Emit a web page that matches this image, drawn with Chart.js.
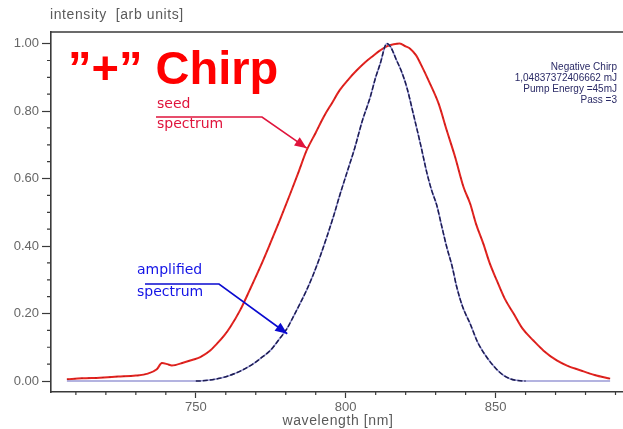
<!DOCTYPE html>
<html>
<head>
<meta charset="utf-8">
<script src="https://cdn.jsdelivr.net/npm/chart.js@4"></script>
<style>
  html, body { margin: 0; padding: 0; background: #fff; }
  #wrap { width: 623px; height: 429px; }
</style>
</head>
<body>
<div id="wrap"><canvas id="chirpChart" width="623" height="429"></canvas></div>
<script>
// Seed spectrum
const seedNm = [707, 712, 718, 724, 730, 734, 737, 738.7, 740.5, 742, 746, 749, 751.5, 754.5, 757, 759.5, 761.5, 764.8, 768, 771.5, 774.8, 778, 781.5, 784.3, 787, 790, 792.6, 795.5, 798, 801, 803.7, 806.5, 809.3, 811.5, 813.7, 816, 818, 820, 821.5, 823.5, 825, 828.2, 831, 833.7, 836.5, 839.3, 841.5, 843.5, 845.9, 848, 850.4, 853, 856, 859, 862.6, 866, 870.4, 874, 878.2, 883, 888.2];
const seedVal = [0.005, 0.008, 0.010, 0.013, 0.016, 0.022, 0.035, 0.053, 0.050, 0.046, 0.055, 0.063, 0.071, 0.088, 0.110, 0.135, 0.160, 0.210, 0.270, 0.338, 0.407, 0.476, 0.555, 0.620, 0.684, 0.736, 0.782, 0.825, 0.862, 0.895, 0.921, 0.945, 0.965, 0.980, 0.992, 0.998, 1.000, 0.992, 0.985, 0.965, 0.940, 0.880, 0.822, 0.743, 0.664, 0.575, 0.526, 0.465, 0.407, 0.350, 0.298, 0.245, 0.200, 0.155, 0.120, 0.090, 0.061, 0.045, 0.032, 0.018, 0.007];

// Amplified spectrum
const ampNm = [707, 720, 735, 750, 754, 758, 761.5, 765, 769, 772, 774.8, 777.5, 780.4, 782.5, 784.8, 787, 789.3, 791.5, 793.7, 796, 798, 800.5, 803, 805.5, 808.2, 810, 811.5, 813.7, 815, 817, 818.5, 820.4, 822.6, 825, 827, 828.5, 830.4, 832, 833.7, 835.5, 837, 839, 841.5, 844, 847, 850, 852.6, 855, 857, 860, 870, 880, 888.2];
const ampVal = [0, 0, 0, 0, 0.002, 0.008, 0.017, 0.030, 0.050, 0.070, 0.090, 0.120, 0.155, 0.190, 0.230, 0.270, 0.318, 0.370, 0.427, 0.490, 0.550, 0.620, 0.690, 0.770, 0.842, 0.900, 0.940, 1.000, 0.990, 0.950, 0.920, 0.870, 0.790, 0.700, 0.620, 0.570, 0.520, 0.460, 0.397, 0.340, 0.280, 0.220, 0.170, 0.115, 0.071, 0.038, 0.017, 0.006, 0.002, 0, 0, 0, 0];

const xTicks = [750, 800, 850];
const yTicks = [0, 0.2, 0.4, 0.6, 0.8, 1.0];
const infoLines = ["Negative Chirp", "1,04837372406662 mJ", "Pump Energy =45mJ", "Pass =3"];

const toPoints = (xs, ys) => xs.map((x, i) => ({ x: x, y: ys[i] }));
const axisColor = '#3a3a3a';
const sans = '"Liberation Sans", Arial, sans-serif';

// arrow with filled head
function arrow(ctx, pts, color) {
    ctx.strokeStyle = color; ctx.fillStyle = color; ctx.lineWidth = 1.6;
    ctx.beginPath();
    ctx.moveTo(pts[0][0], pts[0][1]);
    for (let i = 1; i < pts.length; i++) ctx.lineTo(pts[i][0], pts[i][1]);
    ctx.stroke();
    const [x1, y1] = pts[pts.length - 2], [x2, y2] = pts[pts.length - 1];
    const ang = Math.atan2(y2 - y1, x2 - x1);
    ctx.beginPath();
    ctx.moveTo(x2, y2);
    ctx.lineTo(x2 - 12 * Math.cos(ang) + 5 * Math.sin(ang), y2 - 12 * Math.sin(ang) - 5 * Math.cos(ang));
    ctx.lineTo(x2 - 12 * Math.cos(ang) - 5 * Math.sin(ang), y2 - 12 * Math.sin(ang) + 5 * Math.cos(ang));
    ctx.closePath();
    ctx.fill();
}

const overlay = {
    id: 'overlay',
    afterDraw(chart) {
        const ctx = chart.ctx, xs = chart.scales.x, ys = chart.scales.y, area = chart.chartArea;
        ctx.save();

        // top frame line
        ctx.strokeStyle = axisColor; ctx.lineWidth = 1.5;
        ctx.beginPath(); ctx.moveTo(area.left, area.top); ctx.lineTo(area.right, area.top); ctx.stroke();

        // minor ticks
        ctx.lineWidth = 1.2;
        ctx.beginPath();
        for (let v = 710; v <= 890; v += 10) {
            if (v % 50 === 0) continue;
            const px = xs.getPixelForValue(v);
            ctx.moveTo(px, area.bottom); ctx.lineTo(px, area.bottom + 3);
        }
        for (let k = 1; k < 20; k++) {
            if (k % 4 === 0) continue;
            const py = ys.getPixelForValue(k * 0.05);
            ctx.moveTo(area.left, py); ctx.lineTo(area.left - 4, py);
        }
        ctx.stroke();

        // axis titles
        ctx.fillStyle = '#5a5a5a';
        ctx.font = '14px ' + sans;
        ctx.letterSpacing = '0.6px';
        ctx.textBaseline = 'middle';
        ctx.textAlign = 'left';
        ctx.fillText('intensity  [arb units]', 50, 15);
        ctx.textAlign = 'center';
        ctx.fillText('wavelength [nm]', 338, 421);
        ctx.letterSpacing = '0px';

        // big label
        ctx.fillStyle = '#ff0000';
        ctx.font = 'bold 47px ' + sans;
        ctx.textAlign = 'left';
        ctx.textBaseline = 'alphabetic';
        ctx.fillText('\u201D+\u201D Chirp', 68, 84);

        // info block
        ctx.fillStyle = '#2a2a66';
        ctx.font = '10px ' + sans;
        ctx.textAlign = 'right';
        ctx.textBaseline = 'middle';
        infoLines.forEach((t, i) => ctx.fillText(t, 617, 67 + i * 11));

        // seed annotation
        ctx.font = '14px "Comic Sans MS", "DejaVu Sans", sans-serif';
        ctx.textAlign = 'left';
        ctx.fillStyle = '#e0143c';
        ctx.fillText('seed', 157, 104);
        ctx.fillText('spectrum', 157, 124);
        arrow(ctx, [[156, 117], [262, 117], [xs.getPixelForValue(787), ys.getPixelForValue(0.69)]], '#e0143c');

        // amplified annotation
        ctx.fillStyle = '#1414e6';
        ctx.fillText('amplified', 137, 270);
        ctx.fillText('spectrum', 137, 292);
        arrow(ctx, [[145, 284], [219, 284], [xs.getPixelForValue(780.5), ys.getPixelForValue(0.14)]], '#0a0ad0');

        ctx.restore();
    }
};

new Chart(document.getElementById('chirpChart'), {
    type: 'line',
    data: {
        datasets: [
            {
                label: 'amplified dashes', data: toPoints(ampNm, ampVal),
                borderColor: '#1c1c52', borderWidth: 1.5, borderDash: [5, 2],
                segment: { borderColor: c => (c.p0.parsed.y < 0.001 && c.p1.parsed.y < 0.001) ? 'rgba(0,0,0,0)' : '#1c1c52' },
                pointRadius: 0, cubicInterpolationMode: 'monotone'
            },
            {
                label: 'amplified spectrum', data: toPoints(ampNm, ampVal),
                borderColor: '#9a9ad6', borderWidth: 1.6,
                pointRadius: 0, cubicInterpolationMode: 'monotone'
            },
            {
                label: 'seed dashes', data: toPoints(seedNm, seedVal),
                borderColor: 'rgba(150,20,20,0.55)', borderWidth: 1, borderDash: [2, 5],
                pointRadius: 0, cubicInterpolationMode: 'monotone'
            },
            {
                label: 'seed spectrum', data: toPoints(seedNm, seedVal),
                borderColor: '#e42420', borderWidth: 2,
                pointRadius: 0, cubicInterpolationMode: 'monotone'
            }
        ]
    },
    options: {
        responsive: false,
        animation: false,
        layout: { padding: { top: 32, right: 0, left: 0, bottom: 0 } },
        plugins: { legend: { display: false }, tooltip: { enabled: false }, title: { display: false } },
        scales: {
            x: {
                type: 'linear', min: 701.7, max: 892.5,
                afterBuildTicks: s => { s.ticks = xTicks.map(v => ({ value: v })); },
                afterFit: s => { s.height = 37; },
                ticks: { color: '#666', padding: 2, font: { size: 13, family: sans } },
                grid: { drawOnChartArea: false, tickLength: 6, color: axisColor, tickWidth: 1.2 },
                border: { color: axisColor, width: 1.6 }
            },
            y: {
                type: 'linear', min: -0.0326, max: 1.0344,
                afterBuildTicks: s => { s.ticks = yTicks.map(v => ({ value: v })); },
                afterFit: s => { s.width = 51; },
                ticks: { color: '#666', padding: 3, callback: v => v.toFixed(2), font: { size: 13, family: sans } },
                grid: { drawOnChartArea: false, tickLength: 9, color: axisColor, tickWidth: 1.2 },
                border: { color: axisColor, width: 1.6 }
            }
        }
    },
    plugins: [overlay]
});
</script>
</body>
</html>
